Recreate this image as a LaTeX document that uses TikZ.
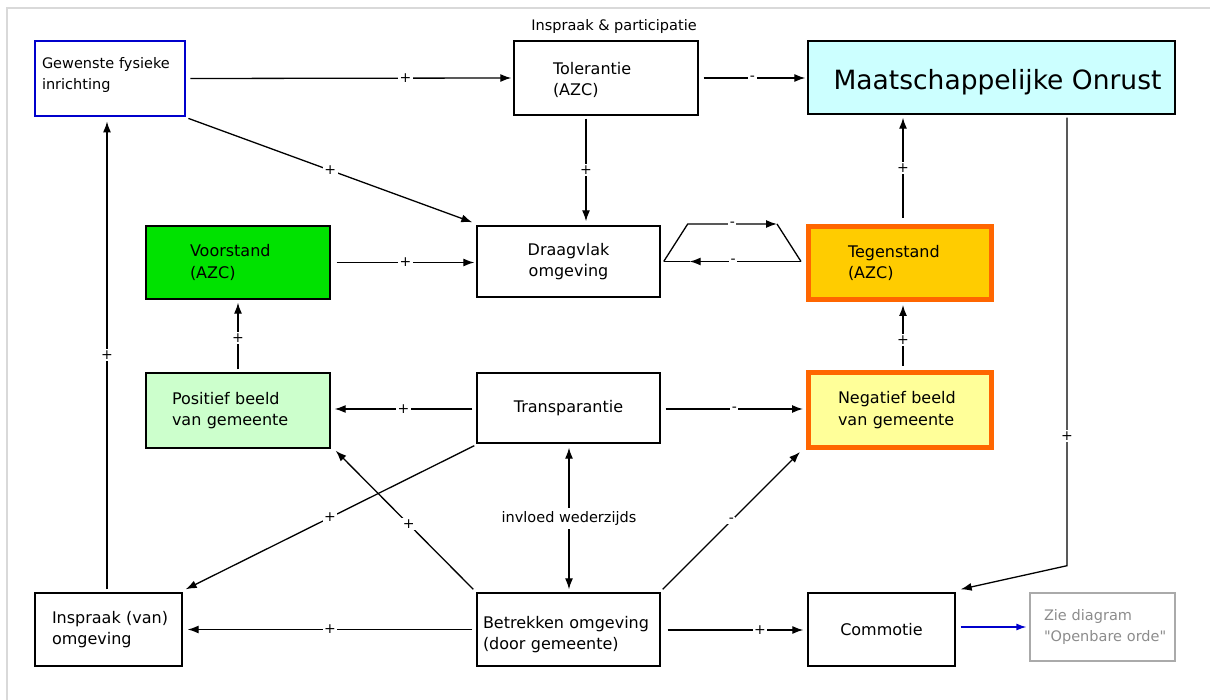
\documentclass[tikz,border=0pt]{standalone}
\usepackage{fontspec}
\setmainfont{DejaVu Sans}[Ligatures=TeXOff]
\usetikzlibrary{arrows.meta,calc}
\definecolor{gblue}{RGB}{0,0,204}
\definecolor{maatc}{RGB}{204,255,255}
\definecolor{vrsc}{RGB}{0,226,0}
\definecolor{posc}{RGB}{204,255,204}
\definecolor{tegc}{RGB}{255,204,0}
\definecolor{orb}{RGB}{255,102,0}
\definecolor{negc}{RGB}{255,255,153}
\definecolor{framec}{RGB}{217,217,217}
\definecolor{ziel}{RGB}{170,170,170}
\definecolor{ziet}{RGB}{140,140,140}
\newcommand\boxfont{\fontsize{16}{21.5}\selectfont}
\newcommand\smallfont{\fontsize{14.5}{21}\selectfont}
\newcommand\lblfont{\fontsize{14}{14}\selectfont}
\newcommand\tl[3]{\hspace*{#1pt}#2\\\hspace*{#1pt}#3}
\begin{document}
\begin{tikzpicture}[x=1pt,y=-1pt,
  bx/.style={draw=black, line width=1.4pt, inner xsep=0pt, inner ysep=0pt, align=left, font=\boxfont, text=black},
  hbox/.style={bx, line width=5pt, draw=orb},
  arr/.style={line width=1.3pt, -{Latex[length=11pt,width=8pt]}},
  plain/.style={line width=1.3pt},
  lbl/.style={fill=white, inner sep=1.5pt, font=\lblfont}]
\useasboundingbox (0,0) rectangle (1210,700);
\draw[framec, line width=2.5pt] (7,700) -- (7,8) -- (1210,8);

% nodes
\node[bx, draw=gblue, line width=2.8pt, text width=150, minimum height=75, font=\smallfont] (gew) at (110,78.5)
  {\tl{7}{Gewenste fysieke}{inrichting}\par\vspace*{7pt}};
\node[bx, text width=184, minimum height=74] (tol) at (606,78)
  {\tl{39}{Tolerantie}{(AZC)}\par\vspace*{-4pt}};
\node[font=\smallfont] (ipl) at ($(tol.north)+(8,-14)$) {Inspraak \& participatie};
\node[bx, fill=maatc, minimum width=367, minimum height=73, align=center, font=\fontsize{26.5}{30}\selectfont] (maat) at (991.5,77.5)
  {\raisebox{0pt}[25pt][0pt]{\hspace*{12pt}Maatschappelijke Onrust}};
\node[bx, fill=vrsc, text width=184, minimum height=73] (vrs) at (238,262.5)
  {\tl{44}{Voorstand}{(AZC)}};
\node[bx, text width=183, minimum height=71, align=center] (drg) at (568.5,261.5)
  {Draagvlak\\omgeving};
\node[hbox, fill=tegc, text width=183, minimum height=73] (teg) at (900,263)
  {\tl{39.5}{Tegenstand}{(AZC)}};
\node[bx, fill=posc, text width=184, minimum height=75] (pos) at (238,410.5)
  {\tl{26}{Positief beeld}{van gemeente}};
\node[bx, text width=183, minimum height=70, align=center] (trn) at (568.5,408)
  {Transparantie};
\node[hbox, fill=negc, text width=183, minimum height=75] (neg) at (900,410)
  {\tl{29.5}{Negatief beeld}{van gemeente}};
\node[bx, text width=147, minimum height=73] (ins) at (108.5,629.5)
  {\tl{17}{Inspraak (van)}{omgeving}};
\node[bx, text width=183, minimum height=73] (btr) at (568.5,629.5)
  {\tl{6}{Betrekken omgeving}{(door gemeente)}\par\vspace*{-10pt}};
\node[bx, text width=147, minimum height=73, align=center] (com) at (881.5,629.5)
  {Commotie};
\node[bx, line width=1.2pt, draw=ziel, text=ziet, text width=145, minimum height=68, font=\smallfont] (zie) at (1102.5,627)
  {\tl{14}{Zie diagram}{"Openbare orde"}};

% connectors
\draw[arr] ($(gew.east)+(4,0)$) -- node[lbl,pos=0.67]{+} ($(tol.west)+(-2,0)$);
\draw[arr] ($(tol.east)+(5,0)$) -- node[lbl,pos=0.48]{-} ($(tol.east -| maat.west)+(-2,0)$);
\draw[arr] ($(gew.south east)+(2,1)$) -- node[lbl]{+} ($(drg.north west)+(-4,-3)$);
\draw[arr] ($(tol.south)+(-20,3)$) -- node[lbl]{+} ($(drg.north)+(17.5,-4)$);
\draw[arr] ($(vrs.east)+(6,0)$) -- node[lbl]{+} ($(vrs.east -| drg.west)+(-2,0)$);

\coordinate (t1) at ($(drg.east)+(3,0)$);
\coordinate (t2) at ($(drg.east)+(27,-37.5)$);
\coordinate (t3) at ($(teg.west)+(-29,-39)$);
\coordinate (t4) at ($(teg.west)+(-5,-1.5)$);
\coordinate (t5) at ($(t1)+(26,0)$);
\draw[arr] (t1) -- (t2) -- node[lbl]{-} (t3);
\draw[plain] (t3) -- (t4);
\draw[arr] (t4) -- node[lbl,pos=0.61]{-} (t5);
\draw[plain] (t5) -- (t1);

\draw[arr] ($(teg.north)+(3,-6)$) -- node[lbl]{+} ($(teg.north |- maat.south)+(3,3)$);
\draw[arr] ($(neg.north)+(3,-4)$) -- node[lbl,pos=0.43]{+} ($(teg.south)+(3,3)$);
\draw[arr] ($(pos.north)+(0,-3)$) -- node[lbl,pos=0.47]{+} ($(vrs.south)+(0,3)$);
\draw[arr] ($(trn.west)+(-4,1)$) -- node[lbl]{+} ($(trn.west -| pos.east)+(4,1)$);
\draw[arr] ($(trn.east)+(5,1)$) -- node[lbl]{-} ($(trn.east -| neg.west)+(-3,1)$);
\draw[arr] ($(ins.north)+(-1.5,-3)$) -- node[lbl]{+} ($(ins.north |- gew.south)+(-1.5,4)$);
\draw[arr] ($(trn.south west)+(-2,2)$) -- node[lbl]{+} ($(ins.north east)+(3,-3)$);
\draw[arr] ($(btr.north west)+(-3,-3)$) -- node[lbl,pos=0.47]{+} ($(pos.south east)+(5,2)$);
\draw[line width=1.3pt, {Latex[length=11pt,width=8pt]}-{Latex[length=11pt,width=8pt]}]
  ($(trn.south)+(0.5,4)$) -- node[lbl, font=\smallfont, inner sep=3pt]{invloed wederzijds} ($(btr.north)+(0.5,-3)$);
\draw[arr] ($(btr.west)+(-4,0)$) -- node[lbl]{+} ($(btr.west -| ins.east)+(5,0)$);
\draw[arr] ($(btr.north east)+(2,-3)$) -- node[lbl]{-} ($(neg.south west)+(-6,2)$);
\draw[arr] ($(btr.east)+(7,0.5)$) -- node[lbl,pos=0.68]{+} ($(btr.east -| com.west)+(-4,0.5)$);
\coordinate (mbend) at ($(maat.south)+(75.5,451)$);
\draw[arr] ($(maat.south)+(75.5,3)$) -- node[lbl,pos=0.71]{+} (mbend) -- ($(com.north east)+(5,-3)$);
\draw[line width=1.3pt, gblue, -{Latex[length=10pt,width=7pt]}] ($(com.east)+(5,-2.5)$) -- ($(com.east -| zie.west)+(-3,-2.5)$);
\end{tikzpicture}
\end{document}
